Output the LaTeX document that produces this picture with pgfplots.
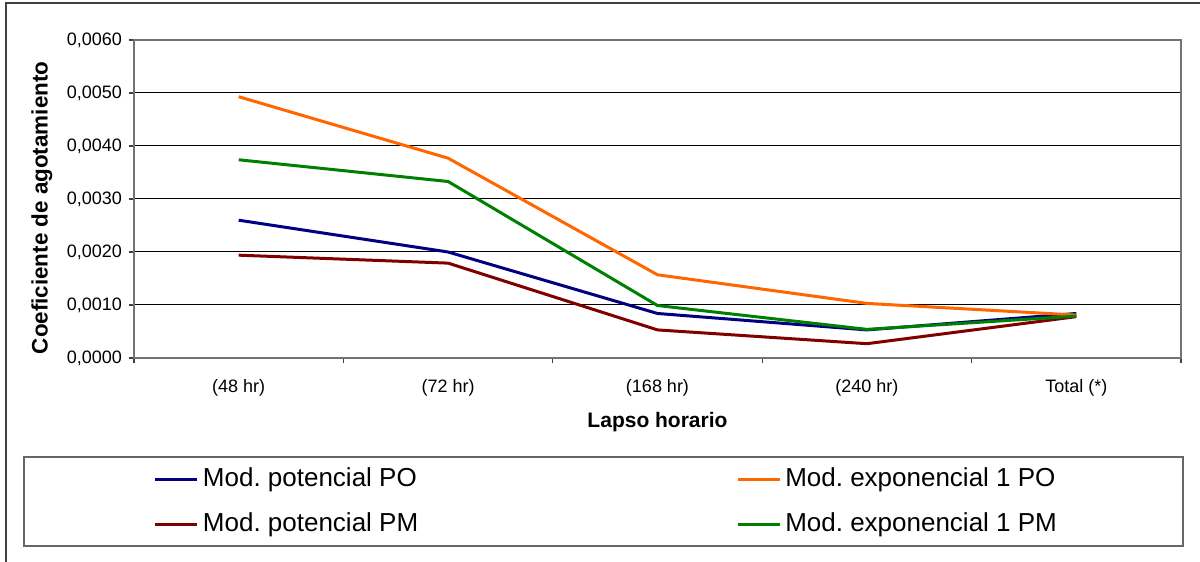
\documentclass[border=0pt]{standalone}
\usepackage{fontspec}
\setmainfont{Liberation Sans}
\usepackage{pgfplots}
\pgfplotsset{compat=1.18}

\definecolor{cPO}{HTML}{000080}
\definecolor{cPM}{HTML}{800000}
\definecolor{cEPO}{HTML}{FF6600}
\definecolor{cEPM}{HTML}{008000}

\begin{document}
\frenchspacing
\begin{tikzpicture}
\useasboundingbox (0,0) rectangle (600pt,281pt);
\draw[black!75, line width=0.8pt] (3pt,0) -- (3pt,279.5pt) -- (600pt,279.5pt);
% legend frame
\draw[black!60, line width=0.7pt] (12pt,8pt) rectangle (591.5pt,52.5pt);
\begin{axis}[
    at={(67pt,102pt)}, anchor=south west,
    scale only axis, width=523.5pt, height=159pt,
    xmin=-0.5, xmax=4.5, ymin=0, ymax=0.006,
    xtick={0,...,4},
    xticklabels={(48 hr),(72 hr),(168 hr),(240 hr),Total (*)},
    minor xtick={-0.5,0.5,1.5,2.5,3.5,4.5},
    ytick={0,0.001,...,0.006},
    xtick pos=bottom, ytick pos=left,
    scaled y ticks=false,
    tick align=outside,
    major tick length=2.5pt, minor tick length=2.5pt,
    major x tick style={draw=none},
    every tick/.style={black!75, line width=0.6pt},
    ymajorgrids, major grid style={black, line width=0.5pt},
    axis line style={draw=black!55, line width=0.75pt},
    tick label style={font=\fontsize{9}{10}\selectfont},
    xticklabel style={yshift=-4.5pt},
    yticklabel style={/pgf/number format/.cd, fixed, fixed zerofill, precision=4, use comma, assume math mode=true},
    xlabel={Lapso horario},
    ylabel={Coeficiente de agotamiento},
    xlabel style={font=\bfseries\fontsize{10.5}{12}\selectfont, at={(axis description cs:0.5,-0.2013)}, anchor=center},
    ylabel style={font=\bfseries\fontsize{11.2}{12}\selectfont, at={(axis description cs:-0.0879,0.472)}, anchor=center},
    legend columns=2,
    legend cell align=left,
    legend image code/.code={\draw[#1] (0pt,0pt) -- (21pt,0pt);},
    legend style={at={(0.4522,-0.4513)}, anchor=center,
        draw=none, fill=none, inner sep=0pt,
        nodes={inner sep=2pt, fill=none, text height=10pt, text depth=3pt},
        font=\fontsize{13}{15}\selectfont,
        row sep=5.5pt,
        /tikz/every even column/.append style={column sep=157pt}},
    every axis plot/.append style={line width=1.5pt, line join=round},
]
\addplot[cPO] coordinates {(0,0.00260) (1,0.00200) (2,0.00084) (3,0.00053) (4,0.00084)};
\addlegendentry{Mod. potencial PO}
\addplot[cEPO] coordinates {(0,0.00493) (1,0.00377) (2,0.00157) (3,0.00103) (4,0.00081)};
\addlegendentry{Mod. exponencial 1 PO}
\addplot[cPM] coordinates {(0,0.00194) (1,0.00179) (2,0.00053) (3,0.00027) (4,0.00078)};
\addlegendentry{Mod. potencial PM}
\addplot[cEPM] coordinates {(0,0.00374) (1,0.00333) (2,0.00099) (3,0.00054) (4,0.00079)};
\addlegendentry{Mod. exponencial 1 PM}
\end{axis}
\end{tikzpicture}
\end{document}
